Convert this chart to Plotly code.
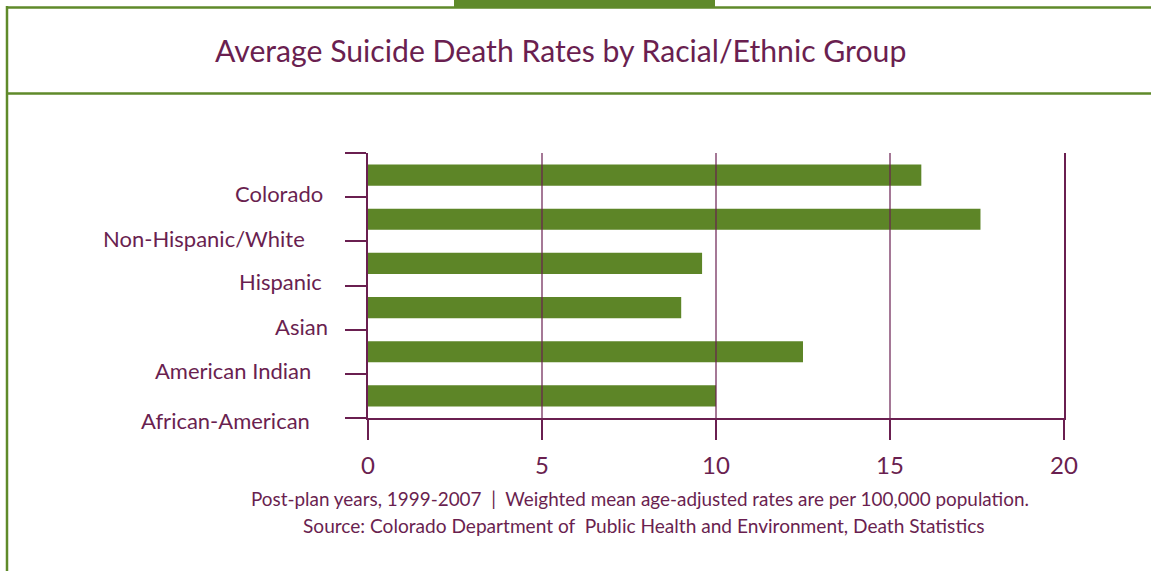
import plotly.graph_objects as go

# ---- data ----
groups = ["Colorado", "Non-Hispanic/White", "Hispanic", "Asian",
          "American Indian", "African-American"]
rates = [15.9, 17.6, 9.6, 9.0, 12.5, 10.0]
x_ticks = [0, 5, 10, 15, 20]
title_text = "Average Suicide Death Rates by Racial/Ethnic Group"
note_line1 = "Post-plan years, 1999-2007  |  Weighted mean age-adjusted rates are per 100,000 population."
note_line2 = "Source: Colorado Department of  Public Health and Environment, Death Statistics"

# ---- style ----
W, H = 1151, 571
FONT = "Lato"
PURPLE = "#6a1f50"
GRID = "#8d5a82"
GREEN = "#5d8527"
FRAME = "#5f8a2a"
label_xshift = [-43, -61, -44, -38, -55, -56]
label_yshift = [4, 3, 4, 3, 3, -2]

n = len(groups)
ypos = [n - 1 - i for i in range(n)]

fig = go.Figure()
fig.add_trace(go.Bar(
    x=rates, y=ypos, orientation="h", width=0.48,
    marker=dict(color=GREEN, line=dict(width=0)),
    hoverinfo="skip", showlegend=False,
))

def px_x(p):
    return p / W

def px_y(p):
    return 1 - p / H

fig.update_layout(
    template="none",
    width=W, height=H, autosize=False,
    margin=dict(l=0, r=0, t=0, b=0, pad=0),
    paper_bgcolor="white", plot_bgcolor="white",
    font=dict(family=FONT, color=PURPLE),
    xaxis=dict(
        domain=[px_x(368), px_x(1064)], range=[x_ticks[0], x_ticks[-1]],
        tickvals=x_ticks, ticktext=[str(t) for t in x_ticks],
        ticks="outside", ticklen=20, tickwidth=1.8, tickcolor=PURPLE,
        showline=True, linecolor=PURPLE, linewidth=1.8,
        showgrid=False, zeroline=False, automargin=False,
        tickfont=dict(family=FONT, size=24, color=PURPLE),
        ticklabelstandoff=5, layer="above traces",
    ),
    yaxis=dict(
        domain=[px_y(418), px_y(153)], range=[-0.5, n - 0.5],
        tickvals=[k - 0.5 for k in range(n + 1)],
        ticks="outside", ticklen=21, tickwidth=1.8, tickcolor=PURPLE,
        showline=True, linecolor=PURPLE, linewidth=1.8, mirror=True,
        showgrid=False, zeroline=False, showticklabels=False,
        automargin=False, layer="above traces",
    ),
)

shapes = []
# gridlines drawn above bars
for v in x_ticks[1:-1]:
    shapes.append(dict(type="line", xref="x", yref="y domain",
                       x0=v, x1=v, y0=0, y1=1, layer="above",
                       line=dict(color=PURPLE, width=1.6), opacity=0.75))
# frame
shapes += [
    dict(type="line", xref="paper", yref="paper", x0=px_x(7), x1=px_x(7),
         y0=0, y1=px_y(6), line=dict(color=FRAME, width=2.5)),
    dict(type="line", xref="paper", yref="paper", x0=px_x(6), x1=1,
         y0=px_y(7.5), y1=px_y(7.5), line=dict(color=FRAME, width=2.5)),
    dict(type="line", xref="paper", yref="paper", x0=px_x(6), x1=1,
         y0=px_y(93.5), y1=px_y(93.5), line=dict(color=FRAME, width=2.5)),
    dict(type="rect", xref="paper", yref="paper", x0=px_x(454), x1=px_x(715),
         y0=px_y(8), y1=1, fillcolor=FRAME, line=dict(width=0)),
]
fig.update_layout(shapes=shapes)

ann = []
for i, g in enumerate(groups):
    ann.append(dict(text=g, xref="x", yref="y", x=0, y=ypos[i] - 0.5,
                    xanchor="right", yanchor="middle", showarrow=False,
                    xshift=label_xshift[i], yshift=label_yshift[i],
                    font=dict(family=FONT, size=22, color=PURPLE)))
ann.append(dict(text=title_text, xref="paper", yref="paper",
                x=px_x(560), y=px_y(50), xanchor="center", yanchor="middle",
                showarrow=False, font=dict(family=FONT, size=30.2, color=PURPLE)))
ann.append(dict(text=note_line1, xref="paper", yref="paper",
                x=px_x(640), y=px_y(498), xanchor="center", yanchor="middle",
                showarrow=False, font=dict(family=FONT, size=18.9, color=PURPLE)))
ann.append(dict(text=note_line2, xref="paper", yref="paper",
                x=px_x(644), y=px_y(525), xanchor="center", yanchor="middle",
                showarrow=False, font=dict(family=FONT, size=19.1, color=PURPLE)))
fig.update_layout(annotations=ann)

fig.write_html(
    "out.html",
    config={"displayModeBar": False, "responsive": False},
    post_script="document.body.style.margin='0';document.body.style.overflow='hidden';",
)
